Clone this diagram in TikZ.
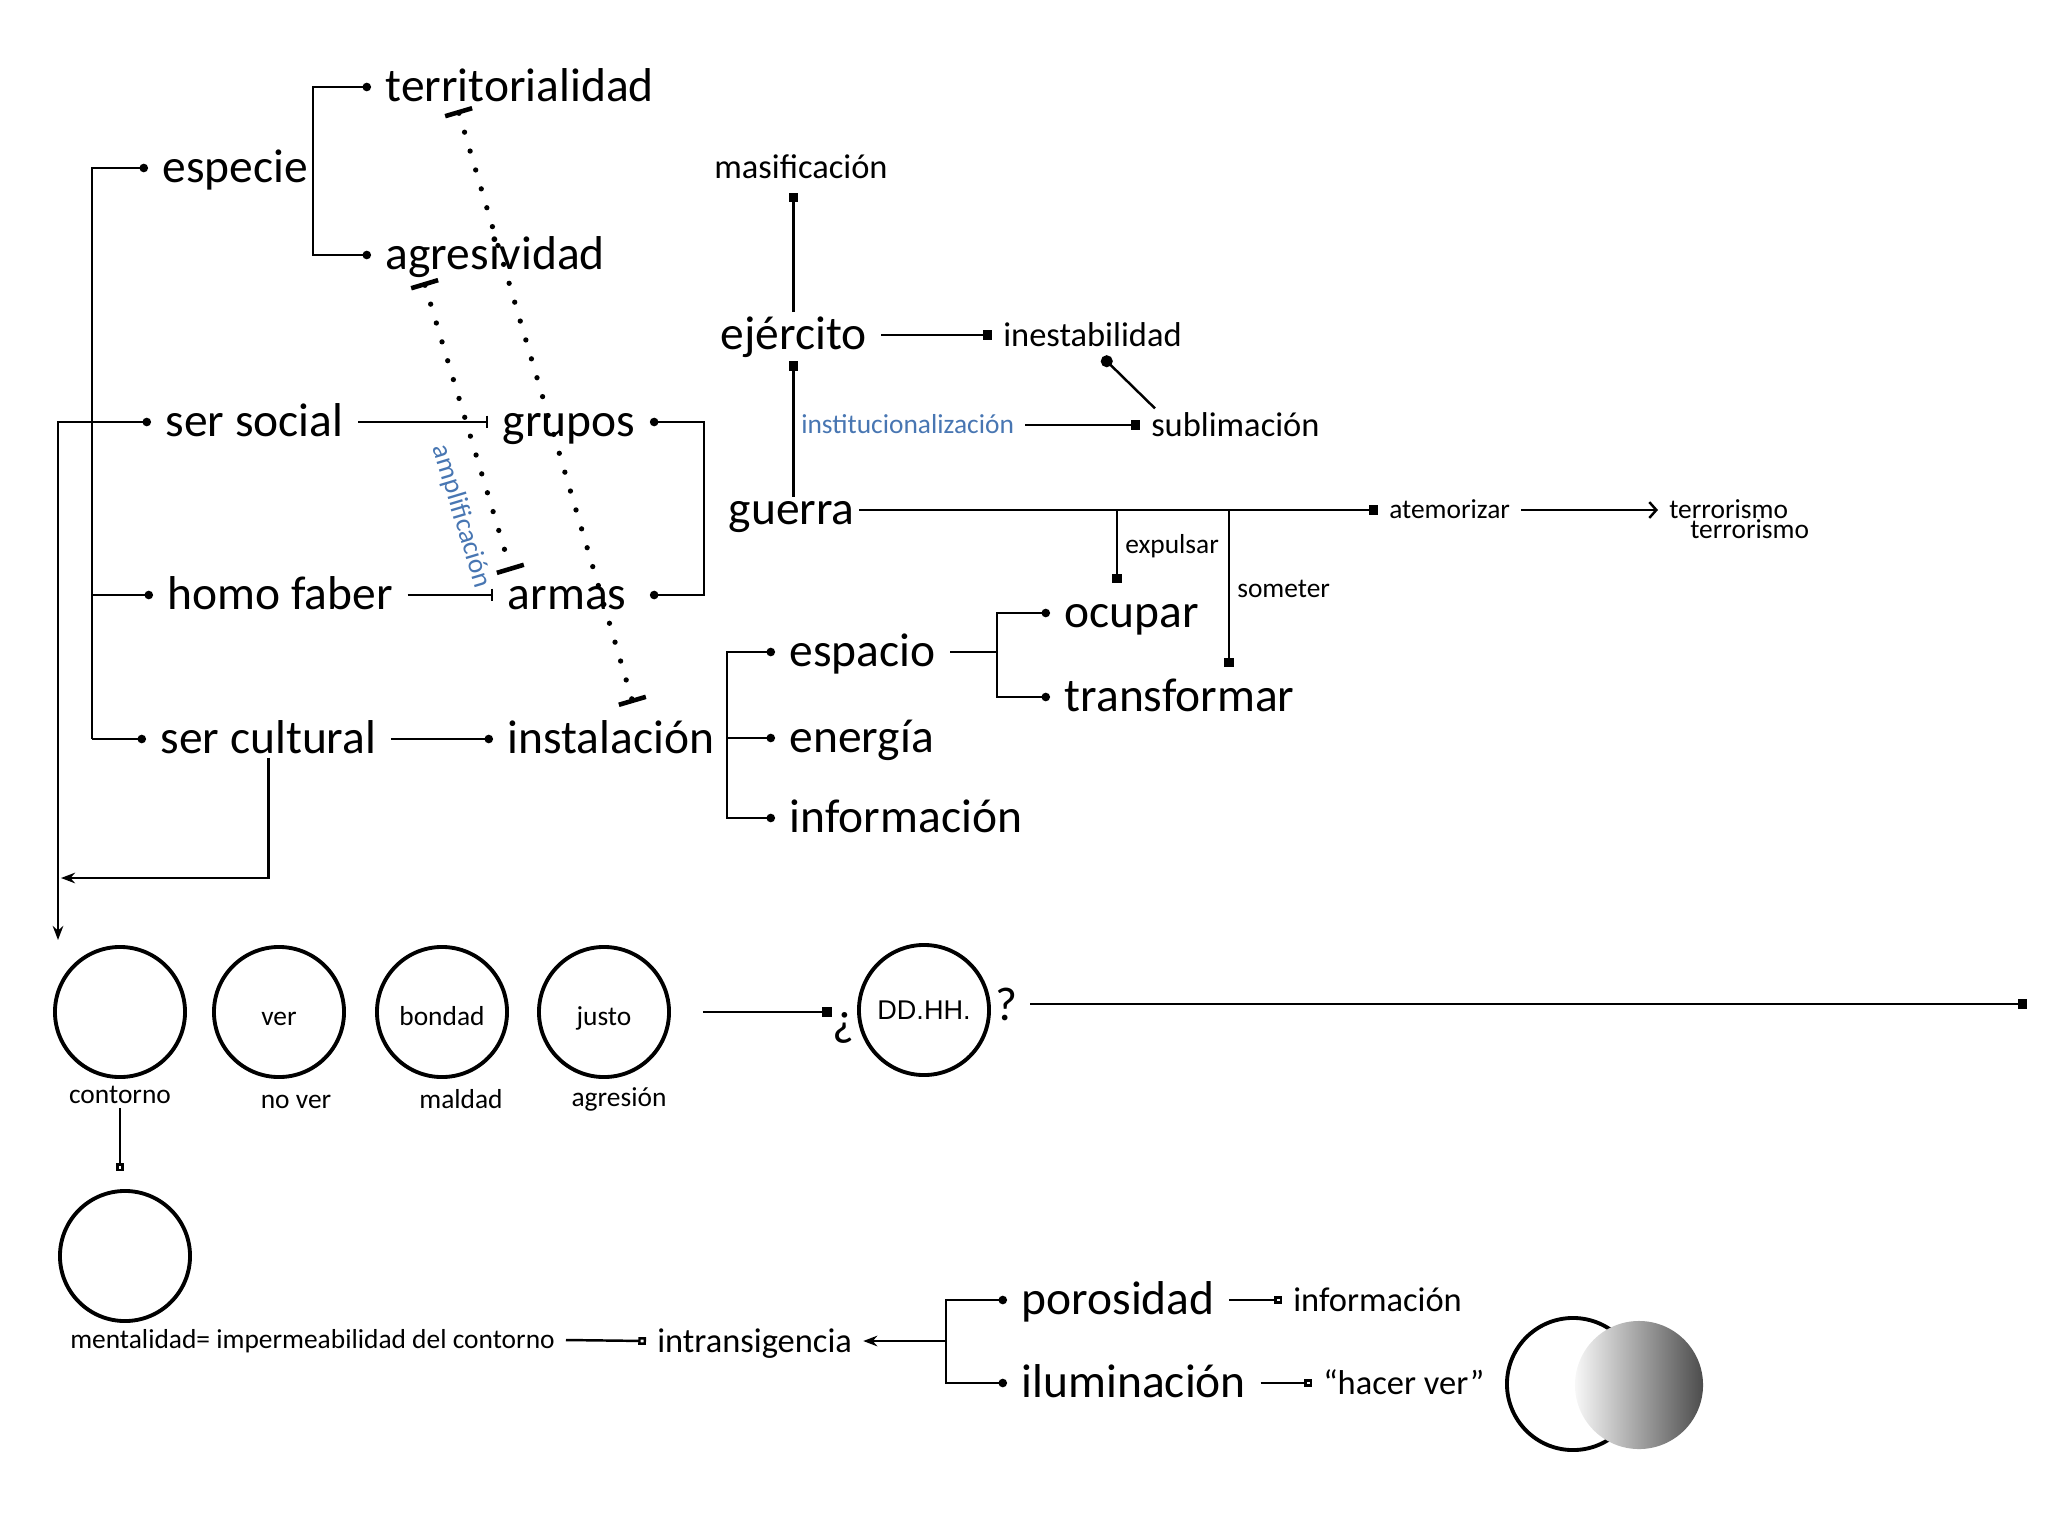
\documentclass[tikz,border=0pt]{standalone}
\usepackage{fontspec}
\setmainfont{Carlito}
\newfontfamily\helvfont{Liberation Sans}
\usetikzlibrary{arrows.meta}
\definecolor{instblue}{RGB}{72,118,178}

\begin{document}
\begin{tikzpicture}[x=0.01cm, y=-0.01cm,
    big/.style={font=\fontsize{13.5}{16}\selectfont, inner xsep=4pt, inner ysep=1pt, anchor=mid west,
        execute at begin node={\lower1.6pt\hbox\bgroup}, execute at end node={\egroup}},
    med/.style={font=\fontsize{9.8}{12}\selectfont, inner xsep=3pt, inner ysep=1pt, anchor=mid west,
        execute at begin node={\lower0.9pt\hbox\bgroup}, execute at end node={\egroup}},
    sml/.style={font=\fontsize{7.8}{9}\selectfont, inner xsep=3pt, inner ysep=1pt, anchor=mid west},
    lab/.style={font=\fontsize{7.8}{9}\selectfont, inner sep=2pt},
    ring/.style={draw, circle, line width=1.1pt, minimum size=1.3cm, inner sep=0pt, font=\fontsize{7.8}{9}\selectfont},
    ringtxt/.style={ring, text height=1.6ex, text depth=0pt},
    ln/.style={line width=0.7pt},
    dtip/.style={ln, -{Circle[length=2.4pt]}},
    dtips/.style={ln, {Circle[length=2.4pt]}-{Circle[length=2.4pt]}},
    sq/.style={ln, -{Square[length=2.6pt]}},
    osq/.style={ln, -{Square[open, length=2.2pt]}},
    bartip/.style={ln, -{Bar[width=3.6pt]}},
    arr/.style={ln, -{Stealth[length=4pt, width=3pt]}},
    barb/.style={ln, -{Straight Barb[length=2pt, width=4.5pt]}},
    knob/.style={ln, -{Circle[length=3.4pt]}},
    bdots/.style={line width=1.5pt, line cap=round, dash pattern=on 0pt off 5.6pt,
        {Bar[width=8pt, line width=1.3pt]}-{Bar[width=8pt, line width=1.3pt]}}
]
\useasboundingbox (0,0) rectangle (2048,1536);

% especie / ser social / homo faber / ser cultural
\node[big] (terr) at (371,87) {territorialidad};
\node[big] (esp) at (148,168) {especie};
\node[big] (agr) at (371,255) {agresividad};
\node[big] (ssoc) at (151,422) {ser social};
\node[big] (hfab) at (153,595) {homo faber};
\node[big] (scul) at (146,739) {ser cultural};
\node[big] (grp) at (488,422) {grupos};
\node[big] (arm) at (493,595) {armas};
\node[big] (inst) at (493,739) {instalación};

% guerra
\node[med, anchor=mid] (masi) at (801,167) {masificación};
\node[big] (ejer) at (706,335) {ejército};
\node[med] (ines) at (992,335) {inestabilidad};
\node[sml, text=instblue] (inbl) at (790,425) {institucionalización};
\node[med] (subl) at (1140,425) {sublimación};
\node[big] (guer) at (714,510) {guerra};
\node[sml] (atem) at (1378,510) {atemorizar};
\node[sml] (ter1) at (1658,510) {terrorismo};
\node[sml] (ter2) at (1679,530) {terrorismo};
\node[big] (espa) at (775,652) {espacio};
\node[big] (ener) at (775,738) {energía};
\node[big] (info) at (775,818) {información};
\node[big] (ocu) at (1050,613) {ocupar};
\node[big] (trans) at (1050,697) {transformar};

% circles
\node[ring] (c1) at (120,1012) {};
\node[ringtxt] (c2) at (279,1012) {ver};
\node[ringtxt] (c3) at (442,1012) {bondad};
\node[ringtxt] (c4) at (604,1012) {justo};
\node[ring, font=\helvfont\fontsize{7.7}{9}\selectfont] (dd) at (924,1010) {DD.HH.};
\node[big, anchor=base east, inner xsep=0pt] (qo) at (855,1030) {¿};
\node[big, anchor=base west, inner xsep=0pt] (qc) at (995,1015) {?};
\node[sml, anchor=mid] (cont) at (120,1095) {contorno};
\node[sml, anchor=mid] (nover) at (296,1100) {no ver};
\node[sml, anchor=mid] (mald) at (461,1100) {maldad};
\node[sml, anchor=mid] (agre) at (619,1098) {agresión};
\node[ring] (c5) at (125,1256) {};
\node[sml] (ment) at (59,1340) {mentalidad= impermeabilidad del contorno};
\node[med] (intr) at (646,1341) {intransigencia};
\node[big] (poro) at (1007,1300) {porosidad};
\node[big] (ilum) at (1007,1383) {iluminación};
\node[med] (inf2) at (1282,1300) {información};
\node[med] (hver) at (1312,1383) {“hacer ver”};

\coordinate (spA) at (92,0);
\coordinate (spB) at (58,940);
\coordinate (lp) at (61,878);
\coordinate (spC) at (313,0);
\coordinate (spD) at (704,0);
\coordinate (spE) at (727,0);
\coordinate (spF) at (997,0);
\coordinate (spG) at (946,1341);
\coordinate (exp) at (1117,583);
\coordinate (som) at (1229,667);
\coordinate (rend) at (2027,1004);
\coordinate (d1a) at (458,110);
\coordinate (d1b) at (633,703);
\coordinate (d2a) at (424,282);
\coordinate (d2b) at (511,571);

% left trees
\draw[dtip] (spA |- scul.mid west) |- (esp.mid west);
\draw[dtip] (spA |- scul.mid west) -- (scul.mid west);
\draw[dtip] (spA |- hfab.mid west) -- (hfab.mid west);
\draw[ln, {Stealth[length=4pt, width=3pt]}-{Circle[length=2.4pt]}] (spB) |- (ssoc.mid west);
\draw[arr] (scul.south) |- (lp);
\draw[dtips] (terr.mid west) -| (spC |- agr.mid west) -- (agr.mid west);
\draw[bartip] (ssoc.mid east) -- (grp.mid west);
\draw[bartip] (hfab.mid east) -- (arm.mid west);
\draw[dtip] (scul.mid east) -- (inst.mid west);
\draw[dtips] (grp.mid east) -| (spD |- arm.mid east) -- (grp.mid east |- arm.mid east);
\draw[bdots] (d1a) -- (d1b);
\draw[bdots] (d2a) -- node[sloped, below=3pt, pos=0.78, lab, text=instblue] {amplificación} (d2b);

% guerra
\draw[sq] (ejer.north) -- ([yshift=-0.1cm]ejer.north |- masi.south);
\draw[sq] (ejer.south |- guer.north) -- (ejer.south);
\draw[sq] (ejer.mid east) -- (ines.mid west);
\draw[sq] (inbl.mid east) -- (subl.mid west);
\draw[knob] ([xshift=0.15cm]subl.north west) -- ([xshift=0.1cm, yshift=-0.06cm]ines.south);
\draw[sq] ([xshift=-0.1cm]guer.mid east) -- (atem.mid west);
\draw[sq] (exp |- guer.mid east) -- node[right, lab] {expulsar} (exp);
\draw[sq] (som |- guer.mid east) -- node[right, lab] {someter} (som);
\draw[barb] (atem.mid east) -- (ter1.mid west);
\draw[dtips] (espa.mid west) -| (spE |- info.mid west) -- (info.mid west);
\draw[dtip] (spE |- ener.mid west) -- (ener.mid west);
\draw[ln] (espa.mid east) -- (spF |- espa.mid east);
\draw[dtips] (ocu.mid west) -| (spF |- trans.mid west) -- (trans.mid west);

% contorno
\draw[sq] ([xshift=0.32cm]c4.east) -- (qo.west |- c4.east);
\draw[sq] (qc.east |- rend) ++(0.12cm,0) -- (rend);
\draw[osq, shorten >=0.18cm] (cont.south) -- (cont.south |- c5.north);
\draw[osq] (ment.mid east) -- (intr.mid west);
\draw[dtips] (poro.mid west) -| (spG) |- (ilum.mid west);
\draw[arr] (spG) -- (intr.mid east);
\draw[osq] (poro.mid east) -- (inf2.mid west);
\draw[osq] (ilum.mid east) -- (hver.mid west);
\draw[line width=1.1pt] (1573,1384) circle (0.66cm);
\shade[left color=gray!6, middle color=gray!45, right color=black!70] (1639,1385) circle (0.64cm);
\end{tikzpicture}
\end{document}
